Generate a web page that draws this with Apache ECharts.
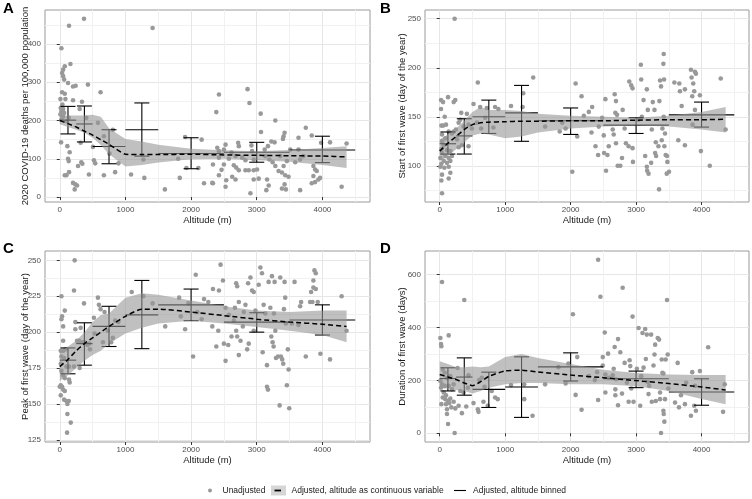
<!DOCTYPE html>
<html><head><meta charset="utf-8">
<script src="https://cdn.jsdelivr.net/npm/echarts@6/dist/echarts.min.js"></script>
<style>html,body{margin:0;padding:0;background:#fff}#c{width:752px;height:499px}</style>
</head><body><div id="c"></div>
<script>
// ---------- data ----------
const xTicks = [0, 1000, 2000, 3000, 4000];
const xMinor = [500, 1500, 2500, 3500, 4500];
const binStart = [0, 250, 500, 1000, 1500, 2500, 3500];
const binEnd = [250, 500, 1000, 1500, 2500, 3500, 4500];
const binCenter = [125, 375, 750, 1250, 2000, 3000, 4000];
const fitX = [0,125,250,375,500,625,750,1000,1250,1500,2000,2500,3000,3500,4000,4368];

const A_points = [[369,466],[141,448],[25,389],[162,348],[76,342],[51,333],[35,324],[51,316],[66,307],[126,298],[202,289],[242,291],[429,294],[621,274],[35,274],[76,270],[10,256],[86,256],[202,253],[338,249],[40,242],[15,233],[51,230],[25,224],[66,220],[10,216],[303,230],[404,207],[51,210],[25,203],[101,198],[136,207],[581,194],[20,143],[116,133],[318,142],[151,117],[505,131],[672,159],[808,176],[126,100],[136,94],[520,96],[540,88],[328,91],[344,87],[278,81],[757,114],[894,88],[444,59],[672,57],[843,65],[1086,59],[141,65],[101,57],[76,57],[202,37],[237,33],[263,30],[227,20],[1288,50],[1414,442],[1273,98],[1601,20],[1828,50],[1803,100],[1909,157],[1929,76],[2111,76],[2161,150],[2323,37],[2399,129],[2424,268],[2860,282],[2889,246],[2384,222],[3060,218],[3283,200],[3065,170],[3424,168],[3409,159],[3399,152],[3747,181],[3838,161],[3980,142],[4116,143],[4368,140],[3636,155],[2525,137],[2717,142],[2727,133],[2919,135],[3222,145],[3272,143],[3171,133],[3121,124],[2929,120],[2500,124],[2424,120],[2616,116],[2677,107],[2576,100],[2778,103],[2828,96],[2424,103],[2333,85],[2500,85],[2464,71],[2424,57],[2651,83],[2687,77],[2727,70],[2828,70],[2879,70],[3131,107],[3192,98],[3242,91],[3283,81],[3333,68],[3384,64],[3434,57],[3484,53],[3409,81],[3459,94],[3358,107],[3586,91],[3661,98],[3712,107],[3510,124],[3863,81],[3889,72],[3914,68],[3863,55],[3889,39],[3939,46],[3964,50],[3838,36],[3636,124],[2677,46],[2626,53],[2535,44],[2525,27],[2333,36],[2197,36],[2954,46],[3030,48],[3157,46],[3182,30],[3424,33],[3444,20],[3384,22],[2904,10],[3146,18],[3661,18],[4293,27],[3005,72],[2954,70],[2954,98]];
const A_binMean = [201, 191, 132, 176, 114, 117, 123];
const A_binLow = [165, 144, 87, 107, 74, 91, 90];
const A_binHigh = [237, 238, 176, 246, 155, 143, 159];
const A_fit = [200,192,183,172,162,150,138,112,111,111,112,110,109,108,107,105];
const A_bandHigh = [213,213,213,213,215,210,180,152,145,137,126,122,120,123,128,133];
const A_bandLow = [190,183,176,168,155,136,112,80,84,90,99,100,96,92,84,76];

const B_points = [[228,250],[582,185],[20,167],[51,165],[127,170],[238,167],[213,165],[20,158],[76,150],[25,141],[51,141],[96,142],[329,154],[415,153],[516,163],[618,160],[719,159],[846,160],[896,158],[1089,161],[1276,174],[314,147],[289,144],[248,137],[213,135],[187,133],[137,135],[365,140],[440,142],[491,138],[567,144],[633,138],[694,149],[820,139],[35,132],[86,128],[264,127],[440,120],[339,121],[289,119],[35,125],[61,121],[25,117],[111,116],[162,115],[35,113],[86,110],[10,108],[137,108],[61,105],[25,102],[111,103],[162,105],[10,99],[71,98],[137,99],[187,110],[162,93],[35,91],[137,87],[25,85],[35,72],[1428,190],[1266,160],[1610,140],[1833,135],[1873,144],[1924,138],[2025,94],[2076,184],[2101,130],[2167,171],[2202,151],[2278,155],[2329,160],[2319,134],[2380,120],[2420,111],[2430,140],[2481,149],[2506,131],[2511,113],[2531,168],[2541,95],[2562,111],[2582,120],[2643,137],[2658,132],[2673,173],[2693,166],[2683,154],[2709,152],[2693,123],[2719,100],[2759,100],[2785,108],[2795,157],[2825,138],[2845,123],[2886,120],[2896,186],[2926,182],[2946,179],[2946,118],[2952,104],[3038,147],[3088,150],[3073,203],[3078,188],[3114,167],[3164,178],[3179,157],[3139,110],[3164,99],[3190,92],[3169,95],[3230,103],[3240,137],[3255,165],[3281,157],[3291,113],[3301,124],[3306,110],[3341,120],[3356,166],[3366,187],[3351,76],[3381,181],[3392,126],[3402,138],[3422,214],[3417,204],[3427,188],[3422,150],[3432,120],[3442,133],[3452,111],[3473,110],[3478,104],[3468,92],[3503,94],[3585,185],[3645,126],[3660,184],[3670,176],[3696,161],[3746,178],[3746,121],[3838,198],[3848,190],[3858,171],[3873,184],[3888,176],[3899,196],[3914,194],[3899,157],[3863,142],[3975,172],[3990,115],[4126,100],[4293,189],[4368,137]];
const B_binMean = [122.5, 130.5, 150, 154, 146, 141.5, 152];
const B_binLow = [112, 112, 133, 125, 132, 133, 139.5];
const B_binHigh = [134.5, 148, 167, 182, 159, 149, 165];
const B_fit = [115,123,130,137,142,144,144.5,145,145.5,145.5,146,146,146.5,147,147,147.5];
const B_bandHigh = [127,132,138,146,155,160,157,157,156,153,151,150,149,151,155,160];
const B_bandLow = [105,110,117,124,131,133,132,128,130,134,138,140,141,140,137,134];

const C_points = [[227,250],[217,229],[25,225],[76,215],[35,211],[25,209],[51,204],[369,220],[237,207],[318,203],[237,202],[51,194],[581,224],[596,219],[621,216],[520,210],[682,214],[1096,228],[843,208],[894,207],[732,201],[657,193],[808,196],[783,193],[530,199],[263,194],[293,194],[328,193],[369,193],[419,191],[460,188],[449,192],[15,187],[51,187],[86,188],[25,183],[66,182],[15,178],[101,176],[141,176],[217,176],[303,175],[25,173],[51,170],[76,168],[141,167],[151,165],[15,163],[0,162],[35,162],[51,160],[76,159],[15,156],[66,153],[101,152],[136,152],[116,150],[116,143],[167,137],[111,130],[1273,225],[1414,220],[1606,204],[1818,224],[1843,211],[1909,202],[1959,220],[2030,183],[2071,240],[2096,214],[2161,209],[2197,223],[2262,221],[2323,204],[2333,230],[2384,190],[2414,201],[2424,229],[2449,247],[2485,236],[2500,192],[2525,180],[2525,217],[2566,191],[2576,212],[2616,197],[2651,208],[2667,217],[2687,234],[2687,201],[2702,197],[2702,232],[2727,184],[2727,221],[2753,194],[2788,204],[2803,214],[2828,219],[2854,188],[2868,234],[2878,192],[2904,238],[2929,229],[2954,228],[2954,201],[2980,215],[3030,233],[3055,245],[3080,241],[3090,186],[3105,219],[3131,213],[3156,177],[3156,162],[3171,160],[3181,235],[3207,217],[3222,197],[3232,239],[3242,193],[3257,190],[3262,213],[3272,235],[3283,201],[3293,182],[3323,183],[3349,149],[3358,238],[3368,183],[3388,181],[3404,178],[3414,216],[3424,235],[3434,224],[3444,206],[3459,163],[3474,188],[3485,174],[3495,147],[3535,206],[3576,235],[3636,205],[3661,218],[3676,221],[3747,183],[3813,221],[3828,228],[3848,221],[3863,231],[3863,236],[3879,243],[3899,241],[3899,230],[3929,221],[3970,185],[4116,181],[4293,225],[4368,201]];
const C_binMean = [180.5, 192, 204, 212, 219, 207, 208.5];
const C_binLow = [171, 177, 190, 188.5, 208, 200, 198];
const C_binHigh = [189, 206.5, 218, 236, 230, 213.5, 219];
const C_fit = [176,181,187,192,196,200,204,211,216,216,214,211.5,209,207,205.5,204];
const C_bandHigh = [186,190,194,200,207,212,213,224,227,226,222,218,215,214,215,215];
const C_bandLow = [166,170,175,180,184,187,192,199,203,206,208,206,203.5,201,198,193];

const D_points = [[35,572],[375,504],[10,360],[137,370],[20,337],[25,329],[273,247],[440,219],[46,241],[76,229],[111,210],[162,216],[10,198],[35,185],[76,179],[20,172],[137,179],[213,185],[187,166],[314,160],[365,154],[430,172],[603,201],[643,210],[684,176],[795,160],[846,135],[886,129],[516,114],[582,91],[592,81],[668,119],[734,104],[61,154],[96,144],[46,135],[86,129],[127,122],[162,131],[25,110],[96,110],[147,114],[213,119],[111,91],[177,98],[238,94],[289,104],[339,76],[405,101],[111,73],[127,35],[228,1],[1089,182],[1291,185],[1291,129],[1418,66],[1610,185],[1813,250],[1924,188],[1965,264],[2035,450],[2076,145],[2101,288],[2167,89],[2278,216],[2370,201],[2405,231],[2420,656],[2455,516],[2420,126],[2491,288],[2521,381],[2491,256],[2531,222],[2531,154],[2572,301],[2582,210],[2643,219],[2658,244],[2673,326],[2683,166],[2683,144],[2693,204],[2724,356],[2724,106],[2759,306],[2785,150],[2795,550],[2825,266],[2860,191],[2886,119],[2901,276],[2911,254],[2926,169],[2946,441],[2961,119],[3012,244],[3038,398],[3063,104],[3078,216],[3098,379],[3114,248],[3139,394],[3149,281],[3164,373],[3179,194],[3190,148],[3200,179],[3230,373],[3240,119],[3266,256],[3281,298],[3291,335],[3301,122],[3331,360],[3351,354],[3366,129],[3366,154],[3381,1],[3392,279],[3402,229],[3417,226],[3422,73],[3432,44],[3417,85],[3442,129],[3452,279],[3473,504],[3483,298],[3493,169],[3595,116],[3635,266],[3655,98],[3686,144],[3746,110],[3766,191],[3838,66],[3858,231],[3888,104],[3899,179],[3914,85],[3975,235],[4101,325],[4329,81],[4354,185]];
const D_binMean = [207, 212.5, 166, 175, 251, 206, 156];
const D_binLow = [160, 144, 97.5, 60, 197.5, 172.5, 106];
const D_binHigh = [247.5, 285, 231, 289, 304, 235, 206];
const D_fit = [222,213,203,190,180,195,215,236,238,232,220,210,199,188,175,164];
const D_bandHigh = [272,262,250,250,252,250,252,288,300,285,262,240,228,222,220,220];
const D_bandLow = [172,168,164,160,150,160,172,185,190,190,185,185,178,160,130,110];

const A_yTicks = [0,100,200,300,400], A_yMinor = [50,150,250,350,450];
const B_yTicks = [100,150,200,250], B_yMinor = [75,125,175,225];
const C_yTicks = [125,150,175,200,225,250], C_yMinor = [137.5,162.5,187.5,212.5,237.5];
const D_yTicks = [0,200,400,600], D_yMinor = [100,300,500];

const legendLabels = ['Unadjusted', 'Adjusted, altitude as continuous variable', 'Adjusted, altitude binned'];

// ---------- chart ----------
const FONT = '"Liberation Sans", Arial, Helvetica, sans-serif';
const panels = [
  {key:'A', grid:{left:45, top:10, width:325, height:192}, yMin:-13, yMax:489, yTicks:A_yTicks, yMinor:A_yMinor, yGap:15,
   yName:'2020 COVID-19 deaths per 100,000 population', pts:A_points, mean:A_binMean, low:A_binLow, high:A_binHigh, fit:A_fit, bh:A_bandHigh, bl:A_bandLow},
  {key:'B', grid:{left:425, top:10, width:324, height:192}, yMin:63.1, yMax:258.9, yTicks:B_yTicks, yMinor:B_yMinor, yGap:18,
   yName:'Start of first wave (day of the year)', pts:B_points, mean:B_binMean, low:B_binLow, high:B_binHigh, fit:B_fit, bh:B_bandHigh, bl:B_bandLow},
  {key:'C', grid:{left:45, top:251, width:325, height:191}, yMin:123.5, yMax:256.5, yTicks:C_yTicks, yMinor:C_yMinor, yGap:15,
   yName:'Peak of first wave (day of the year)', pts:C_points, mean:C_binMean, low:C_binLow, high:C_binHigh, fit:C_fit, bh:C_bandHigh, bl:C_bandLow},
  {key:'D', grid:{left:425, top:251, width:324, height:191}, yMin:-33, yMax:689, yTicks:D_yTicks, yMinor:D_yMinor, yGap:18,
   yName:'Duration of first wave (days)', pts:D_points, mean:D_binMean, low:D_binLow, high:D_binHigh, fit:D_fit, bh:D_bandHigh, bl:D_bandLow}
];

const grids = [], xAxes = [], yAxes = [], series = [], graphics = [];
const labelStyle = {fontSize:8, color:'#4d4d4d', fontFamily:FONT, formatter: v => String(v)};
const nameStyle = {fontSize:9.5, color:'#1a1a1a', fontFamily:FONT};
const majorLine = {color:'#e6e6e6', width:1};
const minorLine = {color:'#f1f1f1', width:1};

panels.forEach((p, i) => {
  grids.push(Object.assign({show:true, borderColor:'#9a9a9a', borderWidth:1, containLabel:false}, p.grid));
  xAxes.push({type:'value', gridIndex:i, min:-225, max:4725, position:'bottom',
    name:'Altitude (m)', nameLocation:'middle', nameGap:13, nameTextStyle:nameStyle, nameMoveOverlap:false,
    axisLine:{show:false}, axisTick:{show:true, length:3, lineStyle:{color:'#333'}, customValues:xTicks},
    axisLabel:Object.assign({customValues:xTicks, margin:4}, labelStyle),
    splitLine:{show:true, lineStyle:majorLine}});
  xAxes.push({type:'value', gridIndex:i, min:-225, max:4725, position:'top',
    axisLine:{show:false}, axisTick:{show:false, customValues:xMinor}, axisLabel:{show:false},
    splitLine:{show:true, lineStyle:minorLine}});
  yAxes.push({type:'value', gridIndex:i, min:p.yMin, max:p.yMax, position:'left',
    name:p.yName, nameLocation:'middle', nameGap:p.yGap, nameTextStyle:nameStyle, nameMoveOverlap:false,
    axisLine:{show:false}, axisTick:{show:true, length:3, lineStyle:{color:'#333'}, customValues:p.yTicks},
    axisLabel:Object.assign({customValues:p.yTicks, margin:4}, labelStyle),
    splitLine:{show:true, lineStyle:majorLine}});
  yAxes.push({type:'value', gridIndex:i, min:p.yMin, max:p.yMax, position:'right',
    axisLine:{show:false}, axisTick:{show:false, customValues:p.yMinor}, axisLabel:{show:false},
    splitLine:{show:true, lineStyle:minorLine}});

  const xi = 2*i, yi = 2*i;
  series.push({type:'scatter', name:legendLabels[0], xAxisIndex:xi, yAxisIndex:yi, data:p.pts,
    symbolSize:4.6, itemStyle:{color:'#999999', opacity:1}, z:2, silent:true});

  series.push({type:'custom', name:legendLabels[2], xAxisIndex:xi, yAxisIndex:yi, z:3, silent:true,
    data: binStart.map((s, j) => [s, binEnd[j], binCenter[j], p.mean[j], p.low[j], p.high[j]]),
    renderItem: (params, api) => {
      const s = api.coord([api.value(0), api.value(3)]);
      const e = api.coord([api.value(1), api.value(3)]);
      const lo = api.coord([api.value(2), api.value(4)]);
      const hi = api.coord([api.value(2), api.value(5)]);
      const st = {stroke:'#000', lineWidth:1.1};
      const cap = 7.5;
      return {type:'group', children:[
        {type:'line', shape:{x1:s[0], y1:s[1], x2:e[0], y2:e[1]}, style:st},
        {type:'line', shape:{x1:lo[0], y1:lo[1], x2:hi[0], y2:hi[1]}, style:st},
        {type:'line', shape:{x1:lo[0]-cap, y1:lo[1], x2:lo[0]+cap, y2:lo[1]}, style:st},
        {type:'line', shape:{x1:hi[0]-cap, y1:hi[1], x2:hi[0]+cap, y2:hi[1]}, style:st}
      ]};
    }});

  series.push({type:'custom', name:legendLabels[1] + ' CI', xAxisIndex:xi, yAxisIndex:yi, z:4, silent:true,
    data:[[fitX[0], p.fit[0]]],
    renderItem: (params, api) => {
      const pts = [];
      for (let k = 0; k < fitX.length; k++) pts.push(api.coord([fitX[k], p.bh[k]]));
      for (let k = fitX.length - 1; k >= 0; k--) pts.push(api.coord([fitX[k], p.bl[k]]));
      return {type:'polygon', shape:{points:pts}, style:{fill:'rgba(150,150,150,0.6)'}};
    }});

  series.push({type:'line', name:legendLabels[1], xAxisIndex:xi, yAxisIndex:yi, z:5, silent:true,
    data: fitX.map((x, k) => [x, p.fit[k]]), symbol:'none', smooth:0.2,
    lineStyle:{color:'#000', width:1.5, type:[5,3]}});

  graphics.push({type:'text', left: p.grid.left < 100 ? 3 : 380, top: p.grid.top < 100 ? 1 : 241,
    style:{text:p.key, font:'bold 15px ' + FONT, fill:'#000'}});
});

// legend
const ly = 490.5;
graphics.push({type:'circle', shape:{cx:210, cy:ly, r:2}, style:{fill:'#999999'}});
graphics.push({type:'text', x:222.5, y:ly, style:{text:legendLabels[0], font:'8.5px ' + FONT, fill:'#1a1a1a', verticalAlign:'middle'}});
graphics.push({type:'rect', shape:{x:271, y:485.5, width:15, height:10}, style:{fill:'#d6d6d6'}});
graphics.push({type:'line', shape:{x1:274.5, y1:ly, x2:281, y2:ly}, style:{stroke:'#000', lineWidth:1.8}});
graphics.push({type:'text', x:291.5, y:ly, style:{text:legendLabels[1], font:'8.5px ' + FONT, fill:'#1a1a1a', verticalAlign:'middle'}});
graphics.push({type:'line', shape:{x1:454, y1:ly, x2:466, y2:ly}, style:{stroke:'#000', lineWidth:1.1}});
graphics.push({type:'text', x:473, y:ly, style:{text:legendLabels[2], font:'8.5px ' + FONT, fill:'#1a1a1a', verticalAlign:'middle'}});

const chart = echarts.init(document.getElementById('c'), null, {renderer:'canvas'});
chart.setOption({animation:false, backgroundColor:'#fff', grid:grids, xAxis:xAxes, yAxis:yAxes, series:series, graphic:graphics});
</script></body></html>
